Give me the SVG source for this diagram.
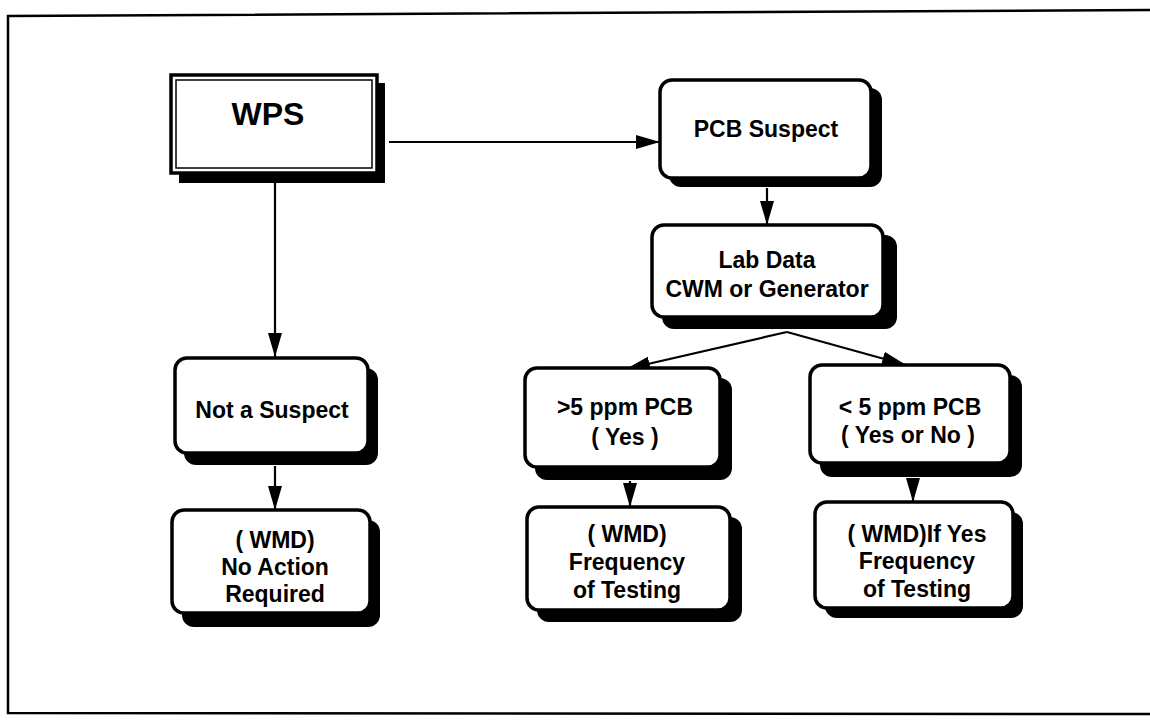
<svg xmlns="http://www.w3.org/2000/svg" width="1150" height="723" viewBox="0 0 1150 723">
<style>
  .frame { fill: none; stroke: #000; stroke-width: 2.5; }
  .box { fill: #fff; stroke: #000; stroke-width: 3.5; }
  .shadow { fill: #000; }
  .inner { fill: none; stroke: #000; stroke-width: 1.5; }
  .conn { stroke: #000; stroke-width: 2.2; fill: none; }
  text { font-family: "Liberation Sans", Arial, sans-serif; font-weight: bold; font-size: 23px; fill: #000; text-anchor: middle; }
  .big { font-size: 32px; }
</style>
<defs>
  <marker id="arrow" markerUnits="userSpaceOnUse" markerWidth="26" markerHeight="18" refX="24" refY="9" orient="auto">
    <path d="M0,2 L24,9 L0,16 Z" fill="#000"/>
  </marker>
</defs>
<rect width="1150" height="723" fill="#fff"/>
<g id="frame">
  <path class="frame" d="M1150,10 L8,16 L8,713 L1150,714"/>
</g>
<g id="connectors">
  <line class="conn" x1="389" y1="142" x2="660" y2="142" marker-end="url(#arrow)"/>
  <line class="conn" x1="275" y1="183" x2="275" y2="357" marker-end="url(#arrow)"/>
  <line class="conn" x1="767" y1="188" x2="767" y2="225" marker-end="url(#arrow)"/>
  <line class="conn" x1="787" y1="332" x2="626" y2="369" marker-end="url(#arrow)"/>
  <line class="conn" x1="787" y1="332" x2="906" y2="365" marker-end="url(#arrow)"/>
  <line class="conn" x1="275" y1="466" x2="275" y2="510" marker-end="url(#arrow)"/>
  <line class="conn" x1="630" y1="481" x2="630" y2="507" marker-end="url(#arrow)"/>
  <line class="conn" x1="913" y1="478" x2="913" y2="502" marker-end="url(#arrow)"/>
</g>
<g id="wps">
  <rect class="shadow" x="179" y="83" width="206" height="100"/>
  <rect class="box" x="171" y="75" width="206" height="98"/>
  <rect class="inner" x="176" y="80" width="196" height="88"/>
  <text class="big" x="268" y="125">WPS</text>
</g>
<g id="pcb-suspect">
  <rect class="shadow" x="669" y="88" width="213" height="99" rx="12"/>
  <rect class="box" x="660" y="80" width="211" height="98" rx="12"/>
  <text x="766" y="137">PCB Suspect</text>
</g>
<g id="lab-data">
  <rect class="shadow" x="662" y="235" width="235" height="94" rx="12"/>
  <rect class="box" x="652" y="225" width="231" height="92" rx="12"/>
  <text x="767" y="268">Lab Data</text>
  <text x="767" y="297">CWM or Generator</text>
</g>
<g id="not-suspect">
  <rect class="shadow" x="184" y="368" width="194" height="97" rx="12"/>
  <rect class="box" x="175" y="358" width="193" height="95" rx="12"/>
  <text x="272" y="418">Not a Suspect</text>
</g>
<g id="gt5">
  <rect class="shadow" x="535" y="378" width="197" height="102" rx="12"/>
  <rect class="box" x="525" y="368" width="195" height="99" rx="12"/>
  <text x="625" y="415">&gt;5 ppm PCB</text>
  <text x="625" y="445">( Yes )</text>
</g>
<g id="lt5">
  <rect class="shadow" x="820" y="375" width="202" height="102" rx="12"/>
  <rect class="box" x="810" y="365" width="200" height="98" rx="12"/>
  <text x="910" y="415">&lt; 5 ppm PCB</text>
  <text x="908" y="443">( Yes or No )</text>
</g>
<g id="wmd-no-action">
  <rect class="shadow" x="182" y="520" width="198" height="107" rx="12"/>
  <rect class="box" x="172" y="510" width="198" height="103" rx="12"/>
  <text x="275" y="548">( WMD)</text>
  <text x="275" y="575">No Action</text>
  <text x="275" y="602">Required</text>
</g>
<g id="wmd-frequency">
  <rect class="shadow" x="537" y="517" width="205" height="105" rx="12"/>
  <rect class="box" x="527" y="507" width="203" height="103" rx="12"/>
  <text x="627" y="542">( WMD)</text>
  <text x="627" y="570">Frequency</text>
  <text x="627" y="598">of Testing</text>
</g>
<g id="wmd-if-yes">
  <rect class="shadow" x="825" y="512" width="198" height="106" rx="12"/>
  <rect class="box" x="815" y="502" width="198" height="106" rx="12"/>
  <text x="917" y="542">( WMD)If Yes</text>
  <text x="917" y="569">Frequency</text>
  <text x="917" y="597">of Testing</text>
</g>
</svg>
